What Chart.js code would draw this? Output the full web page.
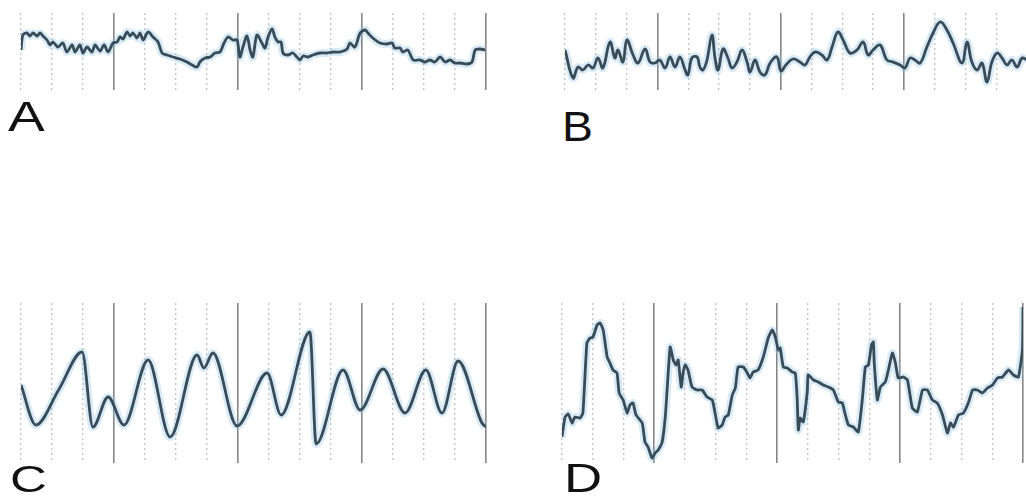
<!DOCTYPE html>
<html>
<head>
<meta charset="utf-8">
<script src="https://cdn.jsdelivr.net/npm/chart.js@4.4.1/dist/chart.umd.min.js"></script>
<style>
html,body{margin:0;padding:0;background:#fff;overflow:hidden;width:1026px;height:499px;}
.panel{position:absolute;}
.lbl{position:absolute;font-family:"Liberation Sans",Arial,sans-serif;line-height:1;color:#111;transform-origin:0 0;white-space:nowrap;}
</style>
</head>
<body>
<div class="panel" style="left:13px;top:5px;width:481px;height:93px"><canvas id="cA"></canvas></div>
<div class="panel" style="left:557px;top:5px;width:478px;height:93px"><canvas id="cB"></canvas></div>
<div class="panel" style="left:13px;top:295px;width:481px;height:176px"><canvas id="cC"></canvas></div>
<div class="panel" style="left:554px;top:295px;width:477px;height:176px"><canvas id="cD"></canvas></div>

<div class="lbl" id="lA" style="left:8px;top:95px;font-size:43px;transform:scaleX(1.28)"></div>
<div class="lbl" id="lB" style="left:562px;top:105px;font-size:43px;transform:scaleX(1.08)"></div>
<div class="lbl" id="lC" style="left:9.5px;top:462px;font-size:36px;transform:scaleX(1.42)"></div>
<div class="lbl" id="lD" style="left:564px;top:457.5px;font-size:40px;transform:scaleX(1.32)"></div>

<script>
// panel names
const panelLabels = ['A', 'B', 'C', 'D'];

// trace A (time units 0-150, gridline every 10)
const aX = [0, 0.6, 1.9, 2.9, 3.9, 5.2, 6.1, 7.1, 8.4, 9.4, 10.3, 11.9, 13.5, 14.8, 16.5, 17.4, 19.0, 20.0, 21.3, 22.9,
  23.9, 25.5, 26.8, 28.1, 29.7, 31.0, 31.9, 32.9, 34.2, 35.2, 36.1, 37.4, 38.4, 39.4, 41.0, 42.6, 44.2, 45.5, 47.1, 49.0,
  51.3, 53.5, 55.2, 56.8, 57.7, 59.4, 61.0, 62.6, 64.2, 65.5, 66.8, 68.4, 69.7, 70.6, 71.6, 72.9, 73.9, 74.8, 76.1, 77.7,
  78.7, 79.7, 81.0, 81.9, 82.9, 83.9, 84.5, 86.1, 87.7, 89.0, 90.0, 91.0, 92.6, 94.2, 96.5, 98.7, 100.6, 102.9, 105.2, 106.1,
  107.7, 109.4, 111.0, 111.9, 113.5, 115.8, 118.1, 119.7, 120.6, 122.3, 123.2, 124.8, 126.5, 128.7, 130.3, 131.9, 133.5, 135.2, 136.8, 138.4,
  140.0, 141.6, 143.9, 145.5, 146.5, 148.1, 149.7];
const aY = [40, 55, 57, 54, 57, 54, 57, 54, 50, 45, 48, 43, 47, 38, 45, 38, 45, 37, 43, 38,
  45, 39, 45, 38, 47, 48, 53, 51, 58, 54, 57, 52, 57, 50, 58, 53, 48, 37, 35, 33,
  31, 28, 25, 23, 28, 32, 33, 37, 38, 47, 53, 50, 50, 33, 43, 54, 40, 33, 55, 47,
  42, 53, 61, 53, 48, 48, 37, 35, 37, 33, 30, 34, 33, 35, 37, 37, 38, 38, 41, 47,
  43, 57, 60, 57, 52, 47, 46, 47, 42, 42, 38, 40, 30, 30, 28, 30, 28, 33, 28, 30,
  27, 27, 26, 28, 40, 41, 40];

// trace B
const bX = [0, 2.6, 4.2, 5.8, 7.5, 9.1, 10.7, 12.3, 14.6, 16.2, 17.2, 18.8, 20.1, 22.1, 23.7, 26.0, 27.6, 29.2, 30.8, 32.5,
  34.1, 35.7, 37.3, 39.0, 39.9, 41.2, 42.9, 43.8, 44.8, 46.1, 47.7, 48.7, 49.7, 51.3, 52.9, 54.2, 55.8, 57.5, 59.1, 60.1,
  61.7, 63.3, 64.9, 66.6, 68.8, 70.1, 71.7, 74.0, 76.3, 77.9, 79.5, 81.2, 83.4, 85.1, 86.7, 88.6, 90.3, 92.5, 94.8, 96.8,
  98.4, 100.0, 102.3, 104.5, 106.5, 108.8, 110.4, 112.0, 113.6, 115.3, 117.5, 119.5, 121.8, 124.0, 126.0, 128.9, 130.5, 132.1, 133.8, 135.4,
  137.0, 138.6, 140.3, 141.9, 143.5, 145.1, 146.8, 148.4, 150];
const bY = [40, 12, 23, 20, 25, 22, 32, 22, 48, 32, 40, 28, 50, 35, 27, 41, 28, 27, 30, 22,
  33, 23, 33, 20, 15, 32, 33, 23, 20, 30, 55, 32, 20, 41, 32, 22, 28, 40, 28, 18,
  30, 18, 15, 27, 33, 19, 25, 31, 28, 25, 33, 38, 35, 30, 43, 58, 50, 37, 40, 48,
  35, 40, 45, 30, 28, 25, 22, 32, 30, 27, 43, 57, 68, 60, 47, 27, 48, 28, 20, 27,
  8, 28, 37, 32, 25, 30, 23, 32, 30];

// trace C
const cX = [0, 4.8, 12.3, 19.7, 23.2, 28.1, 33.2, 41.0, 48.1, 56.8, 59.0, 61.9, 69.7, 79.4, 83.9, 93.2, 95.2, 103.9, 109.4, 116.8,
  123.9, 130.6, 135.8, 141.0, 148.7, 150];
const cY = [78, 38, 74, 111, 36, 66, 38, 103, 26, 108, 95, 110, 37, 90, 48, 131, 19, 93, 53, 94,
  50, 93, 50, 102, 40, 36];

// trace D
const dX = [0, 1.0, 2.0, 3.3, 4.2, 5.9, 6.8, 8.1, 9.1, 10.1, 11.4, 12.4, 13.4, 14.7, 15.6, 16.6, 17.9, 18.6, 19.9, 21.2,
  22.1, 23.1, 24.1, 26.1, 27.0, 28.0, 29.3, 30.3, 31.3, 32.6, 33.6, 34.2, 35.2, 36.2, 37.1, 37.8, 38.8, 39.4, 40.1, 41.0,
  42.3, 44.0, 45.6, 47.2, 48.9, 49.8, 50.8, 52.1, 53.1, 54.1, 55.4, 56.4, 57.3, 59.0, 60.3, 61.2, 62.2, 63.8, 65.5, 67.1,
  68.4, 69.4, 70.4, 71.0, 72.0, 73.3, 74.9, 75.9, 76.5, 76.9, 77.5, 78.5, 79.8, 80.1, 81.8, 83.4, 85.0, 86.6, 88.3, 89.9,
  91.2, 92.2, 93.2, 94.8, 96.4, 97.7, 98.7, 99.7, 100.7, 101.3, 101.6, 102.6, 103.6, 105.2, 106.2, 107.5, 108.5, 109.4, 111.1, 112.4,
  114.0, 115.6, 117.3, 118.9, 120.5, 122.1, 123.8, 125.4, 126.4, 127.4, 129.0, 130.6, 132.2, 133.6, 135.2, 136.8, 138.4, 140.1, 141.7, 143.3,
  145.3, 146.9, 148.5, 149.8, 150];
const dY = [26, 46, 49, 40, 46, 45, 50, 120, 125, 126, 138, 140, 133, 106, 100, 93, 90, 70, 63, 50,
  58, 60, 48, 40, 21, 16, 5, 10, 13, 21, 46, 73, 116, 103, 98, 103, 76, 90, 98, 93,
  76, 73, 73, 66, 63, 50, 35, 38, 46, 48, 68, 75, 96, 96, 90, 85, 91, 93, 106, 125,
  133, 126, 113, 115, 96, 95, 91, 90, 66, 33, 45, 41, 71, 88, 83, 81, 78, 76, 73, 61,
  60, 48, 38, 36, 31, 63, 96, 98, 118, 121, 100, 63, 76, 81, 93, 110, 100, 85, 86, 83,
  55, 51, 73, 73, 63, 60, 48, 30, 40, 36, 48, 50, 60, 73, 73, 70, 75, 78, 85, 86,
  93, 88, 86, 113, 156];

const isMajor = c => c.tick && Math.round(c.tick.value) % 40 === 30;

function makeChart(id, xs, ys, yMax, tension, mono) {
  const pts = xs.map((x, i) => ({ x: x, y: ys[i] }));
  return new Chart(document.getElementById(id), {
    type: 'line',
    data: { datasets: [
      { data: pts, borderColor: '#384c58', borderWidth: 2.8, pointRadius: 0, tension: tension,
        cubicInterpolationMode: mono ? 'monotone' : 'default', order: 0 },
      { data: pts, borderColor: 'rgba(140,195,228,0.35)', borderWidth: 8, pointRadius: 0, tension: tension,
        cubicInterpolationMode: mono ? 'monotone' : 'default', order: 1 }
    ]},
    options: {
      animation: false, responsive: true, maintainAspectRatio: false,
      layout: { padding: 8 },
      plugins: { legend: { display: false }, tooltip: { enabled: false } },
      scales: {
        x: { type: 'linear', min: 0, max: 150,
          ticks: { display: false, stepSize: 10 },
          grid: { drawTicks: false, color: c => isMajor(c) ? '#858585' : '#c4c4c4', lineWidth: c => isMajor(c) ? 1.6 : 1.4 },
          border: { display: false, dash: c => isMajor(c) ? [] : [2, 3] } },
        y: { display: false, min: 0, max: yMax }
      }
    }
  });
}

makeChart('cA', aX, aY, 77, 0.3, false);
makeChart('cB', bX, bY, 77, 0.4, false);
makeChart('cC', cX, cY, 160, 0, true);
makeChart('cD', dX, dY, 160, 0.15, false);

['lA', 'lB', 'lC', 'lD'].forEach((id, i) => { document.getElementById(id).textContent = panelLabels[i]; });
</script>
</body>
</html>
